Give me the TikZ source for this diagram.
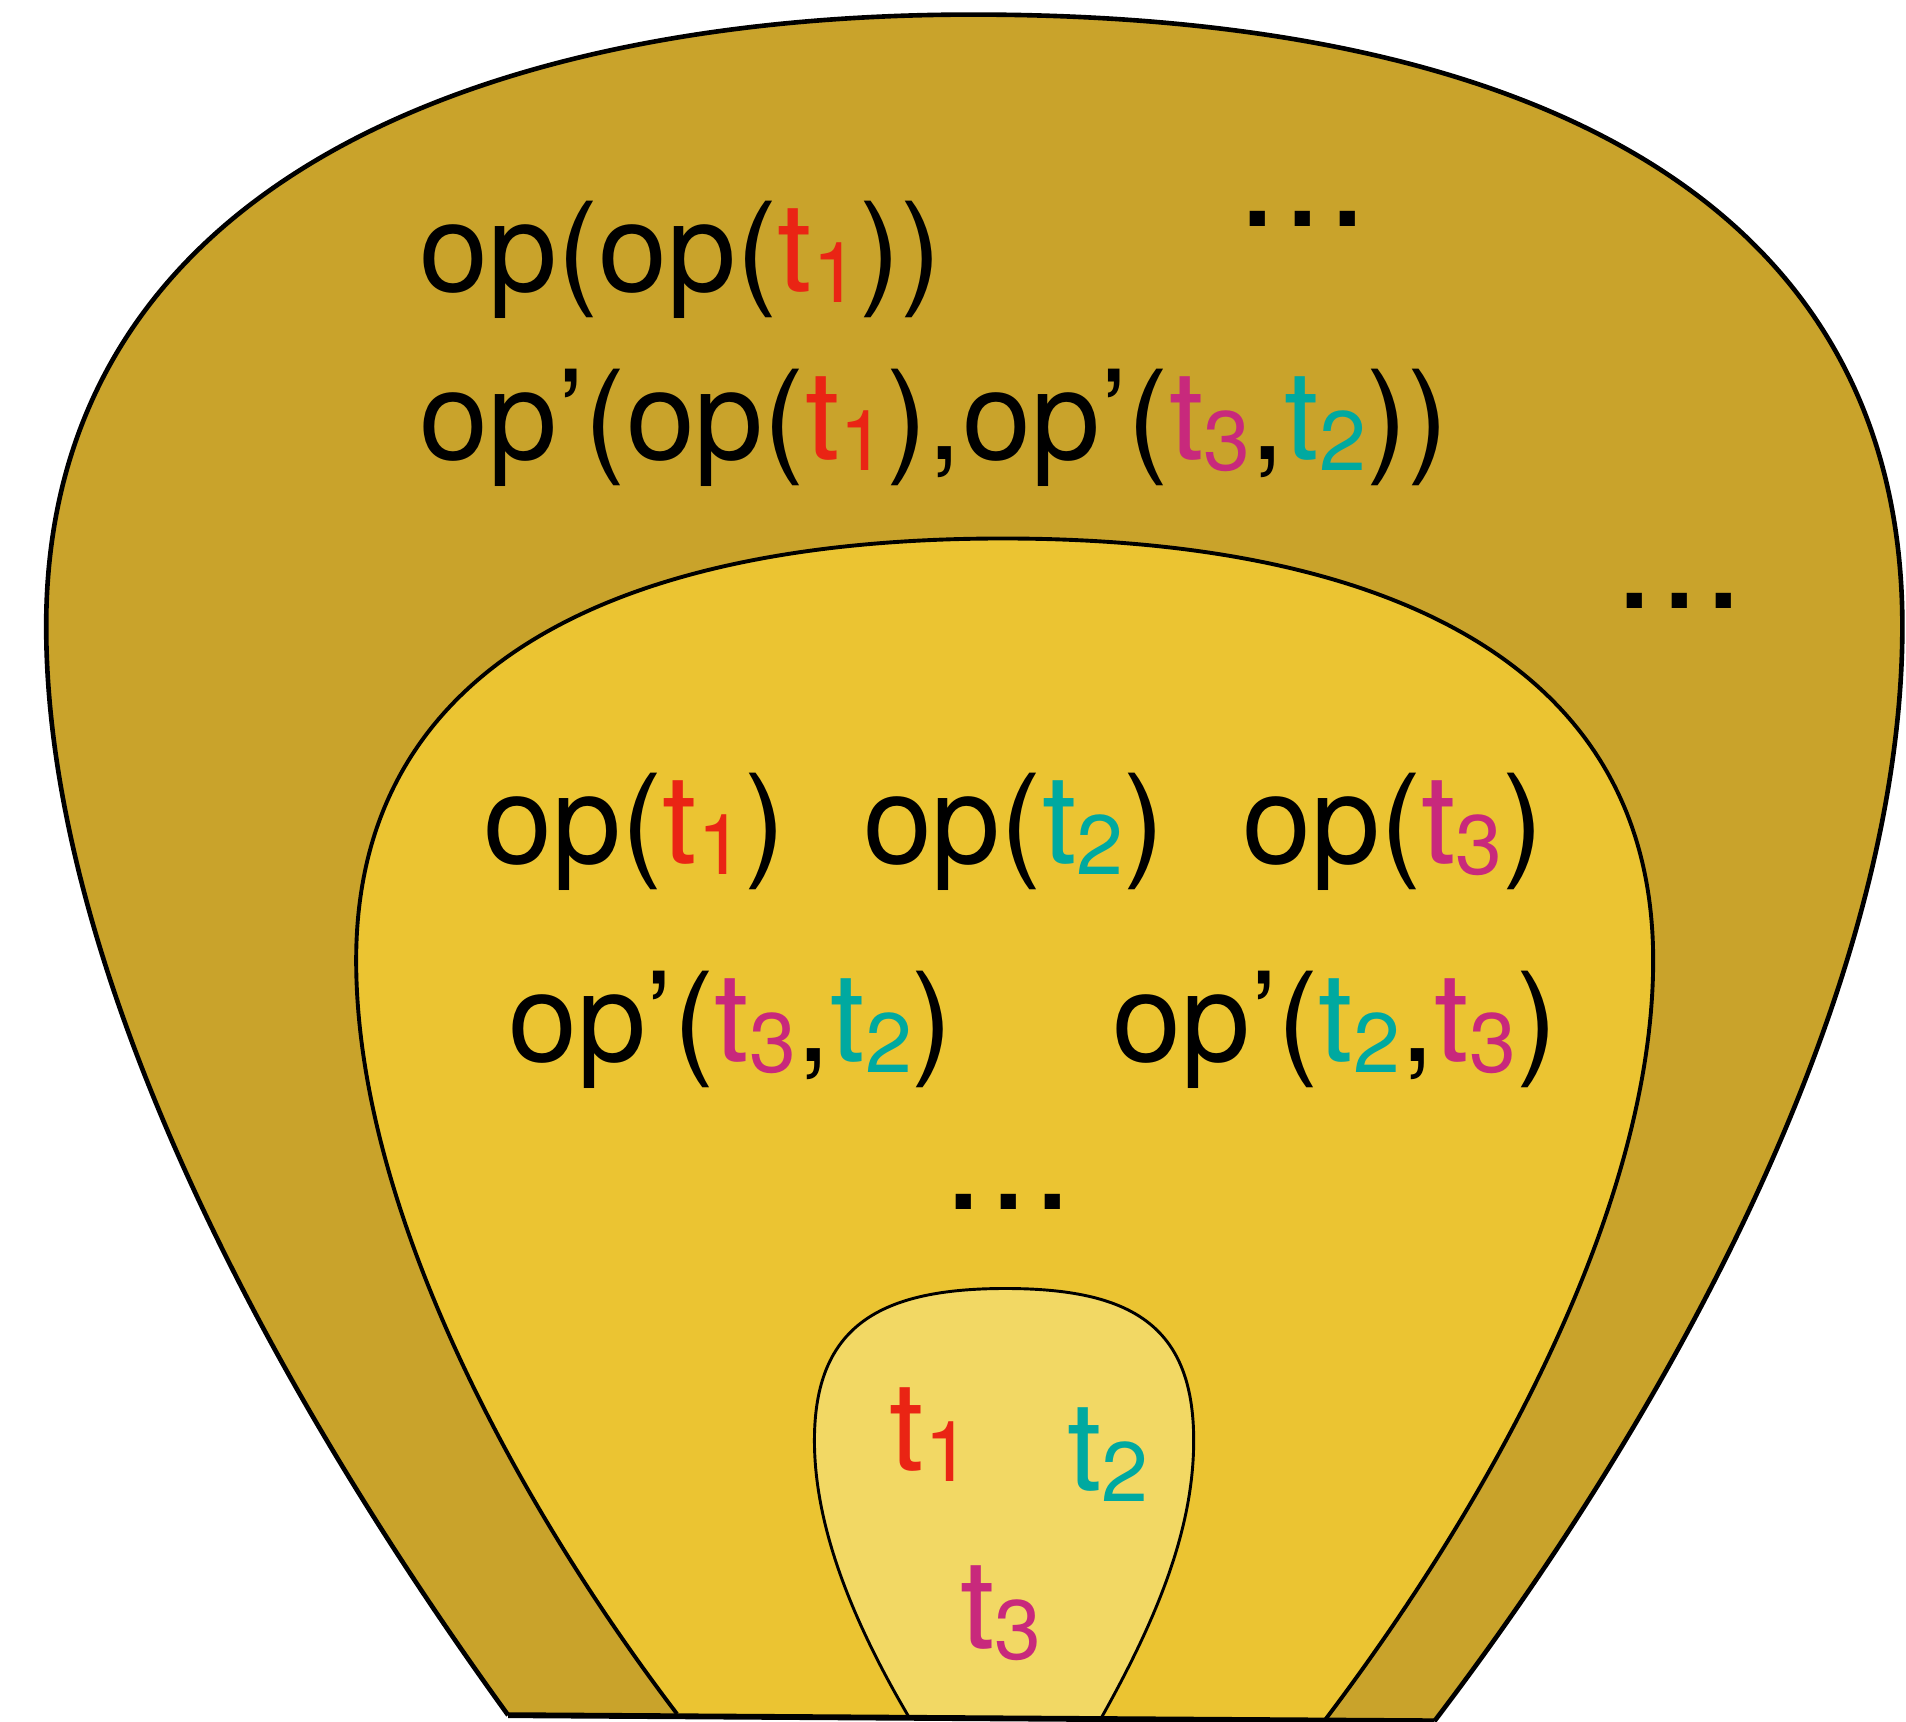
\documentclass[tikz,border=0pt]{standalone}
\usepackage{fontspec}
\usepackage{graphicx}
\setmainfont{TeX Gyre Heros}
\definecolor{outerc}{HTML}{C9A32B}
\definecolor{midc}{HTML}{EBC432}
\definecolor{innerc}{HTML}{F2D864}
\definecolor{tred}{HTML}{EA2414}
\definecolor{tteal}{HTML}{00A9A0}
\definecolor{tmag}{HTML}{C8297C}
\newcommand\tsub[2]{{\color{#1}t\raisebox{-0.09em}{\scalebox{0.68}{#2}}}}
\newcommand\tI{\tsub{tred}{1}}
\newcommand\tII{\tsub{tteal}{2}}
\newcommand\tIII{\tsub{tmag}{3}}
\newcommand\mydots{.\hspace{0.03em}.\hspace{0.03em}.}
\begin{document}
\begin{tikzpicture}[x=0.5pt,y=-0.5pt,
  lbl/.style={inner sep=0pt,outer sep=0pt,anchor=base west,font=\fontsize{51}{60}\selectfont},
  dots/.style={lbl,font=\fontsize{60}{66}\selectfont},
  border/.style={black,line join=round}]
\useasboundingbox (0,0) rectangle (1568,1416);
% outer
\fill[outerc] (418,1411) .. controls (200,1110) and (38,780) .. (38,515)
  .. controls (38,150) and (400,12) .. (800,12)
  .. controls (1250,12) and (1565,160) .. (1565,515)
  .. controls (1565,800) and (1390,1140) .. (1180,1416) -- cycle;
\draw[border,line width=1.9pt] (418,1411) .. controls (200,1110) and (38,780) .. (38,515)
  .. controls (38,150) and (400,12) .. (800,12)
  .. controls (1250,12) and (1565,160) .. (1565,515)
  .. controls (1565,800) and (1390,1140) .. (1180,1416);
% middle
\fill[midc] (557,1410) .. controls (420,1230) and (293,990) .. (293,790)
  .. controls (293,540) and (520,443) .. (825,443)
  .. controls (1130,443) and (1360,540) .. (1360,790)
  .. controls (1360,990) and (1230,1230) .. (1090,1415) -- cycle;
\draw[border,line width=1.6pt] (557,1410) .. controls (420,1230) and (293,990) .. (293,790)
  .. controls (293,540) and (520,443) .. (825,443)
  .. controls (1130,443) and (1360,540) .. (1360,790)
  .. controls (1360,990) and (1230,1230) .. (1090,1415);
% inner
\fill[innerc] (748,1413) .. controls (705,1340) and (670,1260) .. (670,1185)
  .. controls (670,1090) and (725,1060) .. (827,1060)
  .. controls (930,1060) and (982,1090) .. (982,1185)
  .. controls (982,1260) and (950,1335) .. (905,1415) -- cycle;
\draw[border,line width=1.2pt] (748,1413) .. controls (705,1340) and (670,1260) .. (670,1185)
  .. controls (670,1090) and (725,1060) .. (827,1060)
  .. controls (930,1060) and (982,1090) .. (982,1185)
  .. controls (982,1260) and (950,1335) .. (905,1415);
% bottom line
\coordinate (bl) at (418,1411);
\coordinate (br) at (1180,1416);
\draw[border,line width=2.4pt] (bl) -- (br);
% outer texts
\node[lbl] (a1) at (345,240) {op(op(\tI))};
\node[lbl] (a2) at (345,378) {op’(op(\tI),op’(\tIII,\tII))};
\node[dots] (d1) at (1018,186) {\mydots};
\node[dots] (d2) at (1328,501) {\mydots};
% middle texts
\node[lbl] (b1) at (398,710) {op(\tI)};
\node[lbl] (b2) at (710,710) {op(\tII)};
\node[lbl] (b3) at (1022,710) {op(\tIII)};
\node[lbl] (b4) at (418,873) {op’(\tIII,\tII)};
\node[lbl] (b5) at (915,873) {op’(\tII,\tIII)};
\node[dots] (d3) at (776,995) {\mydots};
% inner texts
\node[lbl] (c1) at (732,1210) {\tI};
\node[lbl] (c2) at (878,1226) {\tII};
\node[lbl] (c3) at (790,1356) {\tIII};
\end{tikzpicture}
\end{document}
